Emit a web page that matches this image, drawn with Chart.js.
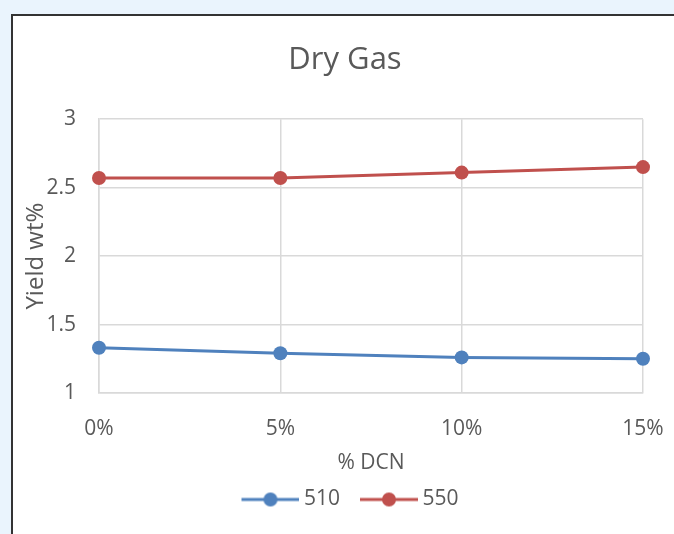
<!DOCTYPE html>
<html>
<head>
<meta charset="utf-8">
<script src="https://cdn.jsdelivr.net/npm/chart.js@4/dist/chart.umd.min.js"></script>
<style>
  html, body { margin: 0; padding: 0; background: #eaf4fd; overflow: hidden; }
  #panel {
    position: absolute; left: 11px; top: 14px;
    width: 680px; height: 540px;
    background: #fff; border: 2px solid #333;
  }
  canvas { display: block; }
</style>
</head>
<body>
<div id="panel"><canvas id="chart" width="664" height="518"></canvas></div>
<script>
// data
var categories = ['0%', '5%', '10%', '15%'];
var series510 = [1.33, 1.29, 1.26, 1.25];
var series550 = [2.57, 2.57, 2.61, 2.65];
var yTicks = [1, 1.5, 2, 2.5, 3];

var blue = '#4F81BD';
var red = '#C0504D';
var grey = '#595959';
var fontFamily = '"Open Sans", sans-serif';

// legend marker: line with a dot, shifted right so the gap to the text is small
function legendMarker(color) {
    var c = document.createElement('canvas');
    c.width = 74; c.height = 16;
    var g = c.getContext('2d');
    g.strokeStyle = color;
    g.lineWidth = 3;
    g.beginPath(); g.moveTo(16, 8); g.lineTo(74, 8); g.stroke();
    g.fillStyle = color;
    g.beginPath(); g.arc(45, 8, 7, 0, Math.PI * 2); g.fill();
    return c;
}

var ctx = document.getElementById('chart').getContext('2d');
var chart = new Chart(ctx, {
    type: 'line',
    data: {
        labels: categories,
        datasets: [{
            label: '510',
            data: series510,
            borderColor: blue,
            backgroundColor: blue,
            borderWidth: 3,
            pointRadius: 7,
            pointHoverRadius: 7,
            pointBorderWidth: 0,
            tension: 0
        }, {
            label: '550',
            data: series550,
            borderColor: red,
            backgroundColor: red,
            borderWidth: 3,
            pointRadius: 7,
            pointHoverRadius: 7,
            pointBorderWidth: 0,
            tension: 0
        }]
    },
    options: {
        responsive: false,
        animation: false,
        layout: { padding: { left: 0, right: 0, top: 0, bottom: 14 } },
        plugins: {
            tooltip: { enabled: false },
            title: {
                display: true,
                text: 'Dry Gas',
                color: grey,
                font: { family: fontFamily, size: 31, weight: 'normal' },
                padding: { top: 26, bottom: 40 }
            },
            legend: {
                position: 'bottom',
                labels: {
                    color: grey,
                    font: { family: fontFamily, size: 21 },
                    usePointStyle: true,
                    pointStyleWidth: 62,
                    padding: 10,
                    generateLabels: function (chart) {
                        return chart.data.datasets.map(function (ds, i) {
                            return {
                                text: ds.label,
                                datasetIndex: i,
                                fontColor: grey,
                                pointStyle: legendMarker(ds.borderColor),
                                lineWidth: 0,
                                hidden: false
                            };
                        });
                    }
                }
            }
        },
        scales: {
            x: {
                afterFit: function (scale) { scale.height = 86; },
                // invisible tick marks give the gap under the axis
                grid: { color: '#d9d9d9', lineWidth: 1.5, drawTicks: true, tickLength: 23, tickColor: 'rgba(0,0,0,0)' },
                border: { color: '#d9d9d9', width: 1.5 },
                ticks: {
                    color: grey,
                    font: { family: fontFamily, size: 21 },
                    padding: 0,
                    maxRotation: 0
                },
                title: {
                    display: true,
                    text: '% DCN',
                    color: grey,
                    font: { family: fontFamily, size: 21 },
                    padding: { top: 0, bottom: 3 }
                }
            },
            y: {
                min: yTicks[0],
                max: yTicks[yTicks.length - 1],
                afterFit: function (scale) { scale.width = 86; },
                afterBuildTicks: function (scale) {
                    scale.ticks = yTicks.map(function (v) { return { value: v }; });
                },
                grid: { color: '#d9d9d9', lineWidth: 1.5, drawTicks: false },
                border: { color: '#d9d9d9', width: 1.5 },
                ticks: {
                    color: grey,
                    font: { family: fontFamily, size: 21 },
                    padding: 23,
                    callback: function (v) { return String(v); }
                },
                title: {
                    display: true,
                    text: 'Yield wt%',
                    color: grey,
                    font: { family: fontFamily, size: 24 },
                    padding: { top: 9, bottom: 0 }
                }
            },
            // empty axis that only keeps the right margin of the plot
            yRight: {
                position: 'right',
                afterFit: function (scale) { scale.width = 34; },
                grid: { display: false },
                border: { display: false },
                ticks: { display: false }
            }
        }
    }
});
</script>
</body>
</html>
